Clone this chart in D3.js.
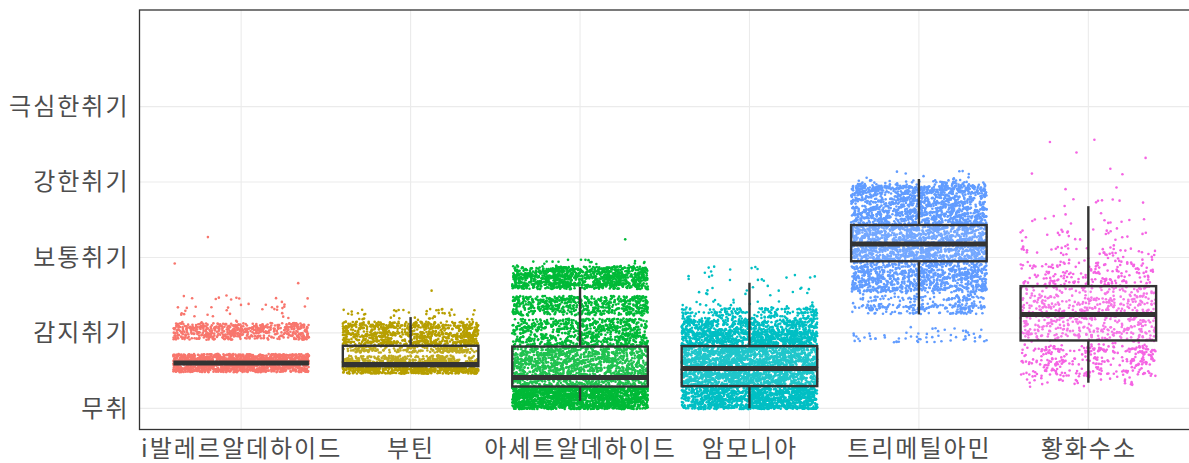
<!DOCTYPE html>
<html>
<head>
<meta charset="utf-8">
<script src="https://cdn.jsdelivr.net/npm/d3@7"></script>
<style>
  body { margin: 0; background: #fff; }
  .chart text { font-family: "Noto Sans CJK KR", "Noto Sans", sans-serif; fill: #4d4d4d; }
</style>
</head>
<body>
<div class="chart"></div>
<script>
// odour categories (x) and intensity levels (y)
var categories = ['i발레르알데하이드', '부틴', '아세트알데하이드', '암모니아', '트리메틸아민', '황화수소'];
var levelLabels = ['무취', '감지취기', '보통취기', '강한취기', '극심한취기'];
var levelValues = [0, 1, 2, 3, 4];
var colors = ['#F8766D', '#B79F00', '#00BA38', '#00BFC4', '#619CFF', '#F564E3'];

// box statistics per category (level units)
var boxMin    = [0.60, 0.56, 0.10, 0.00, 1.245, 0.34];
var boxQ1     = [0.60, 0.56, 0.29, 0.295, 1.95, 0.90];
var boxMedian = [0.60, 0.58, 0.41, 0.53, 2.18, 1.245];
var boxQ3     = [0.60, 0.83, 0.82, 0.825, 2.43, 1.62];
var boxMax    = [0.60, 1.21, 1.61, 1.665, 3.04, 2.68];

// observed point density: [from, to, number of points]
var pointBands = [
    [[0.48, 0.72, 1500], [0.91, 1.13, 560], [1.13, 1.50, 45]],
    [[0.46, 0.60, 720], [0.61, 0.70, 280], [0.74, 0.82, 220], [0.84, 1.15, 920], [1.15, 1.32, 45]],
    [[-0.01, 0.29, 1900], [0.30, 0.82, 1400], [0.82, 1.19, 780], [1.23, 1.49, 610], [1.58, 1.88, 1150], [1.88, 1.97, 25]],
    [[-0.01, 0.30, 1450], [0.30, 0.82, 2200], [0.82, 1.05, 980], [1.05, 1.20, 380], [1.20, 1.34, 180], [1.34, 1.88, 55]],
    [[3.03, 3.15, 10], [2.95, 3.03, 65], [2.43, 2.95, 1400], [1.95, 2.43, 1400], [1.55, 1.95, 920], [1.25, 1.55, 290], [0.87, 1.08, 60]],
    [[0.28, 0.45, 45], [0.45, 0.90, 300], [0.90, 1.62, 560], [1.62, 2.00, 180], [2.00, 2.60, 80], [2.60, 3.60, 15]]
];
// single stray points: [category index, value]
var strayPoints = [[0, 1.66], [0, 1.92], [0, 2.27], [1, 1.56], [2, 2.24], [5, 3.32], [5, 3.56]];

var W = 1189, H = 463;
var margin = { top: 10, right: -1, bottom: 33.5, left: 139.5 };

var svg = d3.select('.chart')
    .append('svg')
    .attr('width', W)
    .attr('height', H);

var x = d3.scalePoint()
    .domain(categories)
    .range([margin.left, W - margin.right])
    .padding(0.6);
var step = x.step();

var y = d3.scaleLinear()
    .domain([-0.28, 5.28])
    .range([H - margin.bottom, margin.top]);

// grid
var grid = svg.append('g');
grid.selectAll('.hgrid')
    .data(levelValues)
    .enter()
    .append('line')
    .attr('x1', margin.left).attr('x2', W)
    .attr('y1', d => y(d)).attr('y2', d => y(d))
    .style('stroke', '#ebebeb').style('stroke-width', 1.1);
grid.selectAll('.vgrid')
    .data(categories)
    .enter()
    .append('line')
    .attr('x1', d => x(d)).attr('x2', d => x(d))
    .attr('y1', margin.top).attr('y2', H - margin.bottom)
    .style('stroke', '#ebebeb').style('stroke-width', 1.1);

// deterministic jitter offset in [0, 1) from an integer key
function jitter(n) {
    n = (n ^ 61) ^ (n >>> 16);
    n = n + (n << 3);
    n = n ^ (n >>> 4);
    n = Math.imul(n, 0x27d4eb2d);
    n = n ^ (n >>> 15);
    return (n >>> 0) / 4294967296;
}

var pts = [];
pointBands.forEach((bands, ci) => {
    var k = ci * 100000 + 7;
    bands.forEach(b => {
        for (var i = 0; i < b[2]; i++, k += 2) {
            pts.push({ c: ci, fx: jitter(k), v: b[0] + jitter(k + 1) * (b[1] - b[0]) });
        }
    });
});
strayPoints.forEach((s, i) => pts.push({ c: s[0], fx: jitter(900000 + i), v: s[1] }));

svg.append('g')
    .selectAll('circle')
    .data(pts)
    .enter()
    .append('circle')
    .attr('cx', d => x(categories[d.c]) + (d.fx - 0.5) * 0.8 * step)
    .attr('cy', d => y(d.v))
    .attr('r', 1.3)
    .style('fill', d => colors[d.c]);

// boxplots
var boxes = svg.append('g')
    .selectAll('.box')
    .data(categories)
    .enter()
    .append('g')
    .attr('class', 'box');

boxes.append('line')
    .attr('x1', d => x(d)).attr('x2', d => x(d))
    .attr('y1', (d, i) => y(boxQ3[i])).attr('y2', (d, i) => y(boxMax[i]))
    .style('stroke', '#333').style('stroke-width', 2.4);
boxes.append('line')
    .attr('x1', d => x(d)).attr('x2', d => x(d))
    .attr('y1', (d, i) => y(boxQ1[i])).attr('y2', (d, i) => y(boxMin[i]))
    .style('stroke', '#333').style('stroke-width', 2.4);
boxes.append('rect')
    .attr('x', d => x(d) - 0.4 * step)
    .attr('width', 0.8 * step)
    .attr('y', (d, i) => y(boxQ3[i]))
    .attr('height', (d, i) => y(boxQ1[i]) - y(boxQ3[i]))
    .style('fill', 'rgba(255,255,255,0.12)')
    .style('stroke', '#333').style('stroke-width', 2.4);
boxes.append('line')
    .attr('x1', d => x(d) - 0.4 * step).attr('x2', d => x(d) + 0.4 * step)
    .attr('y1', (d, i) => y(boxMedian[i])).attr('y2', (d, i) => y(boxMedian[i]))
    .style('stroke', '#333').style('stroke-width', 5);

// axes
var yAxis = d3.axisLeft(y)
    .tickValues(levelValues)
    .tickFormat(d => levelLabels[d])
    .tickSize(0)
    .tickPadding(10);
svg.append('g')
    .attr('transform', `translate(${margin.left}, 0)`)
    .call(yAxis)
    .call(g => g.select('.domain').remove())
    .selectAll('text')
    .style('font-size', '24px')
    .style('letter-spacing', '2px');

var xAxis = d3.axisBottom(x)
    .tickSize(0)
    .tickPadding(10);
svg.append('g')
    .attr('transform', `translate(0, ${H - margin.bottom})`)
    .call(xAxis)
    .call(g => g.select('.domain').remove())
    .selectAll('text')
    .style('font-size', '24px')
    .style('letter-spacing', '2px');

// panel border
svg.append('rect')
    .attr('x', margin.left)
    .attr('y', margin.top)
    .attr('width', W - margin.right - margin.left)
    .attr('height', H - margin.bottom - margin.top)
    .style('fill', 'none')
    .style('stroke', '#333')
    .style('stroke-width', 1.3);
</script>
</body>
</html>
